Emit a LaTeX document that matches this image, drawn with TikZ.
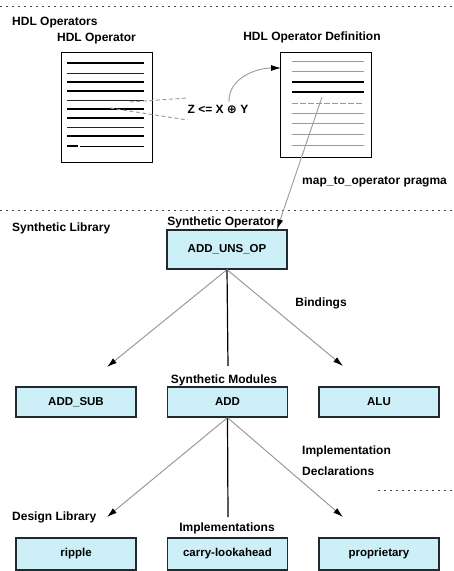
\documentclass[tikz,border=0pt]{standalone}
\usepackage{fontspec}
\setmainfont{Liberation Sans}
\newfontfamily\symfont{DejaVu Sans}
\usetikzlibrary{arrows.meta}
\definecolor{boxfill}{HTML}{CDEFF8}
\definecolor{boxline}{HTML}{1E2A30}
\definecolor{rule}{HTML}{444444}
\definecolor{faint}{HTML}{9A9A9A}
\tikzset{
  lbl/.style={font=\bfseries\fontsize{12}{14}\selectfont, inner sep=0pt},
  modbox/.style={draw=boxline, line width=1.3pt, fill=boxfill, minimum width=120pt,
    font=\bfseries\fontsize{11.5}{13}\selectfont, inner sep=0pt},
  docbox/.style={draw=black, line width=0.9pt, fill=white, inner sep=0pt},
  divider/.style={rule, line width=0.9pt, dash pattern=on 1.5pt off 4.5pt},
  darkline/.style={black, line width=1.4pt},
  dimline/.style={faint, line width=0.9pt},
  bind/.style={faint, line width=1pt, -{Latex[length=10pt,width=6pt,black]}},
  trunk/.style={black, line width=1.2pt},
}
\begin{document}
\begin{tikzpicture}[x=1pt,y=-1pt]
\useasboundingbox (0,0) rectangle (454,571);

% section dividers
\coordinate (d1a) at (0,6);   \coordinate (d1b) at (454,6);
\coordinate (d2a) at (0,210); \coordinate (d2b) at (454,210);
\coordinate (d3a) at (378,490); \coordinate (d3b) at (454,490);
\draw[divider] (d1a) -- (d1b);
\draw[divider] (d2a) -- (d2b);
\draw[divider] (d3a) -- (d3b);

% ---- HDL operators ----
\node[lbl, anchor=west] (hdlops) at (12,23) {HDL Operators};
\node[lbl] (hdlop) at (96.5,39) {HDL Operator};
\node[lbl] (hdldef) at (312,37) {HDL Operator Definition};

\node[docbox, minimum width=91pt, minimum height=110pt] (ldoc) at (106.5,107) {};
\foreach \yy in {63,82,91,109,118,136} \draw[darkline] (67,\yy) -- (144,\yy);
\foreach \yy in {73,100,127} \draw[black!85, line width=1pt] (67,\yy) -- (144,\yy);
\draw[darkline] (67,146) -- (78,146);
\draw[black, line width=0.8pt] (80,146) -- (144,146);

\node[docbox, minimum width=91pt, minimum height=105pt] (rdoc) at (325.5,104.5) {};
\foreach \yy in {61,71,113,123,134,145} \draw[faint, line width=0.9pt] (292,\yy) -- (364,\yy);
\foreach \yy in {82,92} \draw[black, line width=1.1pt] (292,\yy) -- (364,\yy);
\draw[faint, line width=0.9pt, dash pattern=on 6pt off 2pt] (292,103) -- (364,103);

\node[lbl] (expr) at (218,109) {Z <= X {\symfont ⊕} Y};

% operator picked out of the source text
\coordinate (w1) at (130,102); \coordinate (w2) at (110,108);
\draw[faint, line width=0.9pt, dash pattern=on 4pt off 2.5pt] (w1) -- (expr.west |- 0,98);
\draw[faint, line width=0.9pt, dash pattern=on 4pt off 2.5pt] (w2) -- ([yshift=-11pt]expr.west);

\coordinate (oplus) at (229,102);
\coordinate (defin) at (281,68);
\draw[dimline, -{Latex[length=10pt,width=6pt,black]}] (oplus) to[out=92,in=180] (defin);

\node[lbl, anchor=west] (pragma) at (302,182) {map\_to\_operator pragma};

% ---- synthetic library ----
\node[lbl, anchor=west] (synlib) at (12,228) {Synthetic Library};
\node[lbl] (synop) at (221.5,222) {Synthetic Operator};
\node[modbox, minimum height=39pt] (uns) at (227,249.5) {ADD\_UNS\_OP};

\coordinate (pr) at (322,97);
\draw[dimline, -{Latex[length=10pt,width=6pt,black]}] (pr) -- (uns.north -| 277,0);

\node[lbl] (bindings) at (321,303) {Bindings};
\node[lbl] (synmods) at (224,380) {Synthetic Modules};

\node[modbox, minimum height=30pt] (addsub) at (76,402) {ADD\_SUB};
\node[modbox, minimum height=30pt] (add) at (227.5,402) {ADD};
\node[modbox, minimum height=30pt] (alu) at (379,402) {ALU};

\coordinate (b1) at (107,367);
\coordinate (b2) at (228,366);
\coordinate (b3) at (343,366);
\draw[bind] (uns.south) -- (b1);
\draw[trunk] (uns.south) -- (b2);
\draw[bind] (uns.south) -- (b3);

\node[lbl, anchor=west] (impl) at (302,451) {Implementation};
\node[lbl, anchor=west] (decl) at (302,471) {Declarations};

% ---- design library ----
\node[lbl, anchor=west] (deslib) at (12,517) {Design Library};
\node[lbl] (impls) at (227,528) {Implementations};

\node[modbox, minimum height=32pt] (ripple) at (76,554) {ripple};
\node[modbox, minimum height=32pt] (cla) at (227.5,554) {carry-lookahead};
\node[modbox, minimum height=32pt] (prop) at (379,554) {proprietary};

\coordinate (c1) at (107,517);
\coordinate (c2) at (228,517);
\coordinate (c3) at (343,517);
\draw[bind] (add.south) -- (c1);
\draw[trunk] (add.south) -- (c2);
\draw[bind] (add.south) -- (c3);
\end{tikzpicture}
\end{document}
